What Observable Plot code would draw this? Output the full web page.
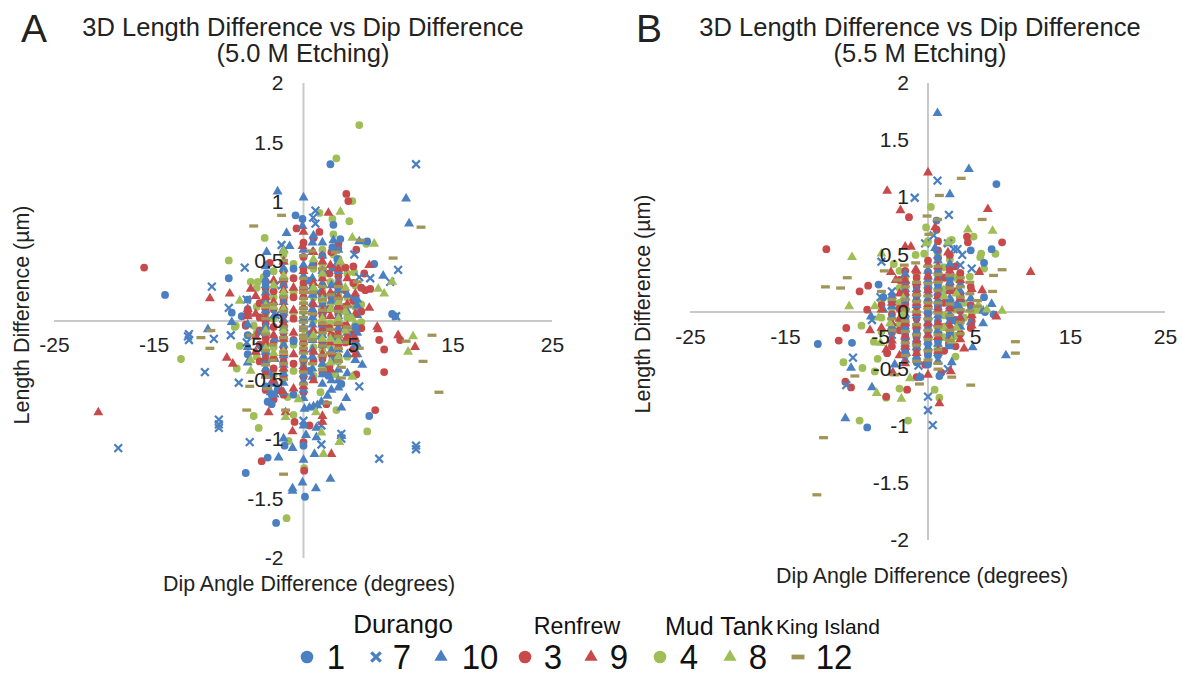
<!DOCTYPE html>
<html>
<head>
<meta charset="utf-8">
<script src="https://cdn.jsdelivr.net/npm/d3@7"></script>
<script src="https://cdn.jsdelivr.net/npm/@observablehq/plot@0.6"></script>
<style>
html,body{margin:0;padding:0;background:#fff;}
#page{position:relative;width:1183px;height:675px;overflow:hidden;font-family:"Liberation Sans",Arial,sans-serif;color:#222;}
#page svg{position:absolute;overflow:visible;background:transparent;}
.t{position:absolute;white-space:nowrap;text-align:center;}
</style>
</head>
<body>
<div id="page"></div>
<script>
// Every row is [dip difference, length difference, length difference, ...]
const xTicks = [-25,-15,-5,5,15,25];
const yTicks = [-2,-1.5,-1,-0.5,0,0.5,1,1.5,2];

// Panel A (5.0 M etching)
const aDurango1 = [[2.7,1.32],[-13.9,.22],[-.8,.89],[-.1,.86],[3,.81],[3.7,.69],[6.4,.67],[-7.5,.36],[7.1,.48],[8.9,.06],[-7.2,.07],[-6.2,.04],[-3.7,.4],[-5.8,-1.28],[-2.75,-1.7],[.15,-1.48],[-3.6,-1.15],[-1.9,-1.05],[6.6,-.8],[3.8,-.53],[2.5,-.46],[-3.6,-.68],[0,-1.05],[9.2,.04],
 [-5.6,.18,.1,-.12,-.28],[-3.8,.32,.12,-.07,-.3,-.55],[3.4,.52,.3,.1,-.14],[5.2,.2,-.05,-.2],[-3.2,-.62,-.7],[-2.6,-.58],[2.9,.62,.45,.22,-.33],[-1,.44,-.17,-.62],[.6,.34,-.11,-.42]];
const aDurango7 = [[11.3,1.32],[1.2,.93],[.97,.87],[1.2,.82],[-2.2,.64],[5.1,.56],[-5.9,.45],[9.5,.43],[6.7,.36],[5.6,.37],[8.7,.33],[-9.2,.29],[-7.5,.11],[-5.7,.18],[9.3,.04],[-11.5,-.11,-.16],[-11.6,-.13],[-9,-.15],[-7.3,-.12],[-5.7,-.18],[-9.9,-.43],[-6.5,-.52],[5.6,-.55],[-8.5,-.83,-.87,-.9],[-5.4,-1.02],[3.8,-.95,-.99],[1.8,-1.04],[11.3,-1.05,-1.08],[7.6,-1.16],[-18.6,-1.07],[0,-.84],[1.8,-.88],[-4.3,-.1,-.24],[-2.8,.3,.05],[1.4,.24,-.14]];
const aDurango10 = [[-2.6,1.09],[0,1.04],[10.3,1.03],[10.6,.82],[-1.7,.74],[-3.7,.58],[-1.4,.63],[-7.2,-.01],[-9.6,-.07],[8,.38],[5.6,.67],[3,.68],[1,.72],[-.1,.8],[4.3,-.65],[3.8,-.73],[5.9,-.37],[5.2,-.33],[-2.5,-1.15],[0,-1.17],[1.1,-1.12],[-.1,-1.36],[-1.1,-1.41,-1.43],[1.25,-1.41],[2.7,-1.33],[-2,-.99],[-1.1,-1.07],[.25,-.96],[1.3,-.98,-.9],[0,-.88],[3.8,-.97],[.1,-.74],[.6,-.73],[1,-.72],[1.4,-.71],[1.8,-.68],[2.4,-.63],
 [-3.8,.46,.35,.3,.24,.17,.09,.03,-.04,-.1,-.19,-.26,-.33,-.4],
 [-2,.6,.5,.44,.37,.3,.22,.16,.07,.01,-.06,-.13,-.2,-.29,-.37,-.44,-.52,-.6],
 [0,.6,.47,.38,.02,-.05,-.3,-.38,-.45,-.51,-.58,-.65],
 [.9,.66,.58,.48,.36,.29,.22,.15,.1,.03,-.03,-.08,-.16,-.24,-.3,-.4,-.47],
 [1.9,.66,.55,.42,.31,.22,.14,.08,-.03,-.12,-.2,-.28,-.36,-.45,-.53],
 [3.5,.6,.5,.42,.33,.26,.2,.1,.04,-.06,-.15,-.24,-.33,-.41,-.5,-.56],
 [5.4,.18,.13,.05,-.1,-.2,-.28],[-5.6,.06,-.03,-.22,-.35],[-2.9,.05,-.15,-.32,-.52,-.62],[2.8,.3,.17,-.25,-.5,-.58],
 [-3.3,-.46,-.53,-.6],[4.4,.22,.08,-.1,-.28,-.44]];
const aRenfrew3 = [[4.3,1.07],[4.5,1.01],[-.7,.78],[1.6,.75],[3.5,.65,.61],[5.3,.6],[5,.46],[6.1,.4],[6.7,.27],[6.2,.26],[-3.4,.49],[-5.8,-.04],[-16,.45],[7.6,-.16],[8.1,-.24,-.43],[7.2,-.75],[9.7,-.16],[5.3,-.45],[-4.2,-1.18],[.6,-.88],[-.9,-.85],[0,-1.02],[.07,-1.26],[2.3,-.7],[-5.8,-.03],
 [-3.8,.28,.2,.08,-.02,-.14,-.27,-.42,-.58],[-2,.42,.3,.17,.05,-.1,-.22,-.34,-.47,-.62],[0,.66,.54,.44,.32,.2,-.18,-.33,-.47,-.6],[1.9,.55,.42,.3,.16,.04,-.07,-.2,-.32,-.44],[3.5,.52,.38,.27,.15,.06,-.08,-.2,-.3],[2.8,.58,.2,-.12,-.28],[5,.32,.17,-.11,-.24],
 [-4.4,.15,.03,-.08,-.2,-.34],[-3,.25,.1,-.05,-.18,-.4,-.66],[-1,.36,.2,.02,-.16,-.36],[1,.7,.48,.26,.06,-.14,-.34],[2.6,.4,.1,-.06,-.38],[4.2,.45,.26,.12,-.04,-.18],[5.8,.28,.08,-.06]];
const aRenfrew9 = [[2.5,.91],[-9.4,.19],[-7.4,.23],[-5.3,.27],[-5.6,.1,.08,.04],[6.6,.47,.11],[7.4,-.05],[-.1,.63],[-20.6,-.77],[7.5,-.07],[9.5,-.12],[11.2,-.22],[-7.7,-.31],[-7.1,-.36],[-3.5,-.77],[1.9,-.8,-.85],[2.8,-1.12],[-1.1,-.93],[-2.2,-.59],[-1.8,-.77],
 [-3.8,.2,.12,.02,-.09,-.18,-.31,-.46],[-2,.5,.35,.26,.12,-.02,-.15,-.27,-.4],[0,.75,.42,.28,.12,-.24,-.4,-.55],[1.9,.5,.36,.24,.09,-.02,-.16,-.28],[3.5,.44,.31,.2,.12,-.02,-.12,-.22],[5.2,.23,.06,-.15,-.28],
 [-4.8,.21,.06,-.13,-.26],[-3,.34,.16,-.12,-.3,-.5],[1,.58,.32,.14,-.08,-.26,-.5],[2.7,.47,.24,.04,-.18,-.41],[4.4,.36,.14,-.04,-.13],[-1,.28,.09,-.1,-.28,-.57]];
const aMudTank4 = [[5.6,1.65],[3.3,1.37],[4.9,1.01],[4.6,.84],[1.6,.91],[2.9,.86],[-3.9,.7],[-7.5,.51],[-5.3,.33],[-4.6,.33],[6.3,.65],[3,.73,.62,.56],[-4,.37],[5.1,.41],[-6.9,-.05],[-5,-.04],[-12.3,-.32],[-6.8,-.04],[-6.4,-.21],[-6.7,-.4],[-5,-.8],[-4.5,-.9],[-1.7,-1.66],[.07,-1.24],[-1.5,-1.01],[6.4,-.93],[3.3,-.75],[-1.6,-.64],[-1,-.79],[1.7,-.6],[3.2,-.45],[4.9,-.09],
 [-3.8,.25,.15,.05,-.06,-.16,-.24,-.35],[-2,.56,.43,.33,.19,.08,-.04,-.17,-.3,-.42],[0,.3,.08,-.2,-.36],[1.9,.6,.48,.36,.25,.11,0,-.1,-.24,-.38],[3.5,.46,.34,.22,.1,0,-.1,-.19,-.34],[5.2,.3,.12,-.03,-.16],
 [-4.7,.28,.12,-.1,-.3],[-3,.42,.2,.02,-.22,-.45],[-1,.48,.24,.07,-.2,-.42],[1,.7,.44,.2,0,-.22,-.46],[2.7,.33,.14,-.02,-.21,-.43],[4.4,.4,.2,.03,-.16,-.3],[5.8,.14,-.01]];
const aMudTank8 = [[3.7,.92],[4.9,.7],[7.1,.65],[8.9,.33],[8.1,.23],[-6.4,.17],[-2,.59],[3.7,.5],[7.5,.27],[4.9,.02],[11,-.13],[10.5,-.26],[4.9,-.47],[2,-1.12],[3.6,-1.02],[-.5,-.66],[1.25,-.77],[-1.8,-.81],[1.8,-.94],[-5.3,-.33,-.42],
 [-2,.38,.24,.1,-.08,-.26],[1.9,.4,.18,.02,-.15],[3.5,.16,.02,-.17,-.3],[-3.8,.13,-.08,-.23],[0,.16,-.12],[-3,.3,.12,-.27],[1,.52,.28,-.12],[2.7,.1,-.15,-.35],[4.2,.28,.08,-.08]];
const aKingIsland12 = [[-2.2,.89],[-5,.8],[11.8,.79],[9,.53],[5.7,.68],[.8,.59],[3.2,.58],[5.4,.33],[12.9,-.12],[10.3,-.17],[12,-.34],[13.6,-.6],[-10.3,-.14],[-9.4,-.23],[-9.3,-.08],[-5.4,-.55],[-5.7,-.75],[-3.6,-.57],[-2,-1.29],[3.8,-.48,-.39],[-1.8,-.75],[2.4,-.69],[5.6,-.23],[-5.3,-.12],
 [-3.8,.13,.02,-.11,-.25,-.37,-.47],[-2,.51,.35,.2,.08,-.05,-.14,-.26,-.36,-.49],[0,.55,.36,.28,.24,.19,.15,.11,.07,.03,-.01,-.05,-.08,-.12,-.15,-.19,-.23,-.27,-.33,-.43,-.53],[1.9,.44,.29,.18,.09,-.02,-.1,-.21,-.29,-.41],[3.5,.29,.19,.08,-.02,-.13,-.23,-.34],
 [-3.1,.14,-.2,-.33],[.9,.45,.24,.06,-.16,-.36],[2.7,.22,-.07,-.27],[4.4,.12,-.05,-.18]];

// Panel B (5.5 M etching)
const bDurango1 = [[7.2,1.12],[.9,.8],[-5.2,.24],[6.7,.55],[4.5,.54],[5.9,.43,.13],[6,0],[6.9,-.02],[-11.6,-.28],[-8,-.27],[-6.4,-1.01],[1.2,-.56],[-.8,-.57],[2.2,-.29],[-4.7,.13],[0,.3,.22,.1,.02,-.07,-.17,-.28,-.38,-.46],[1.05,.34,.24,.13,.06,-.08,-.19,-.26,-.38],[2.3,.3,.1,-.05,-.2],[-2.4,.1,-.06,-.2],[-1.2,.15,-.02,-.27,-.44],[3,.06,-.08]];
const bDurango7 = [[1,1.15],[-1.4,1],[2.2,.85],[.6,.67],[-.3,.6],[-4.9,.44],[2.7,.55],[3.1,.55],[3.6,.5],[3.4,.41],[4.6,.38],[-3.8,.18],[-5,.13],[1,.5],[2.1,.6],[-7.9,-.4],[-8.6,-.64],[0,-.74,-.86],[.5,-.99],[2.1,-.5],[-5.9,-.07],[-1,-.47],[-3.8,.06,-.08,-.2],[-2.4,-.12,-.3]];
const bDurango10 = [[1,1.74],[4.3,1.25],[2.3,1.03],[.75,.56],[2.1,.6],[6.7,.07],[5.8,.01,-.1],[8.2,-.38],[4.7,-.31],[2.5,-.44],[-8.1,-.49],[-5.9,-.66],[-8.7,-.93],[-.9,-.57],[-2.3,-.36],[-3.5,-.46],[-6,-.04],[-4.7,.02],
 [-2.4,.33,.27,.2,.13,.05,-.02,-.09,-.15,-.22,-.28,-.34,-.42],[-1.2,.2,.12,.06,-.03,-.1,-.17,-.24,-.31,-.39],[0,.36,.28,.23,.16,.11,.05,.01,-.04,-.09,-.14,-.2,-.26,-.31],[1.05,.45,.36,.3,.22,.17,.1,.04,-.03,-.1,-.16,-.22,-.28,-.36,-.43],[2.3,.42,.31,.26,.19,.12,.05,-.02,-.08,-.14,-.21,-.3],[3.4,.24,.18,.11,.03,-.05,-.13],[-3.8,.14,.05,-.04,-.13],[4.5,.12,.03,-.09]];
const bRenfrew3 = [[-10.7,.55],[-2,.83],[4.1,.66],[4.2,.61],[7.8,.61],[-7.2,.18],[-6.3,.23],[-6.4,.02],[.9,.72],[-8.6,-.14],[-9.4,-.25],[-8.7,-.61],[-8.1,-.66],[-4.4,-.74],[-2.2,-.68],[1.4,-.53],[-4.3,-.36],[-1.2,-.57],[4.6,-.08],[-4.9,.06],[-.3,-.46],
 [-2.4,.36,.25,.15,.07,-.05,-.13,-.25,-.33],[-1.2,.3,.22,.14,.05,-.06,-.15,-.22,-.32,-.42],[0,.45,.35,.2,.09,-.02,-.12,-.24,-.36,-.44],[1.05,.62,.54,.47,.38,.26,.15,.05,-.12,-.24],[2.3,.5,.38,.24,.1,-.04,-.17],[3.4,.34,.16,.01,-.19],[-3.8,.1,-.02,-.18,-.3],[4.5,.22,.06,-.14],[-3,.28,.03,-.16],[1.7,.3,.08,-.13,-.34],[2.9,.4,.18,-.07,-.3]];
const bRenfrew9 = [[0,1.22],[-4.3,1.06],[-2.9,.89],[6.3,.9],[10.8,.35],[-1.8,.57],[-2.4,.57],[.75,.74],[5.7,.19],[5.4,.35],[-1.3,.37],[2.1,.52],[-3.9,.35],[-3.4,.28],[7.2,-.04],[1.2,-.8],[2.4,-.52],[0,-.55],[3.8,-.32],[-3.7,-.53],[-6.1,-.16],[-4.4,-.33],
 [-2.4,.28,.17,.04,-.1,-.21,-.3,-.45],[-1.2,.36,.26,.17,.08,-.01,-.12,-.26,-.36],[0,.42,.31,.19,.07,-.1,-.2],[1.05,.4,.28,.14,.02,-.1,-.22,-.34],[2.3,.36,.18,.03,-.12,-.25],[3.4,.28,.12,-.06,-.24],[-3.8,.08,-.1,-.25],[-4.9,.02,-.14],[4.6,.2,-.03,-.12],[-3,.16,-.06,-.38]];
const bMudTank4 = [[.3,.92],[-.2,.74],[0,.62],[-.4,.51],[-1.3,.5],[4.8,.66],[2.5,.63],[5.6,.51],[5.5,.48],[7.1,.51],[5.9,.38],[3.4,.34],[4.4,.31],[-3.6,.42],[-7,-.12],[-5.7,-.26],[-8.9,-.44],[-5.3,-.41],[-6.9,-.49],[-5.6,-.52],[-3,-.67],[.7,-.68],[-4.4,-.75],[1.2,-.75],[-7.2,-.95],[-2.1,-.95],[2.2,-.27],[4.6,.04,-.02],[3.8,.08,-.05],[5.3,.03],
 [-2.4,.3,.18,.02,-.16,-.3,-.38],[-1.2,.33,.16,.01,-.2,-.35],[1.05,.5,.3,.08,-.14,-.32],[2.3,.46,.28,.08,-.18],[3.4,.26,.12,-.1],[-3.8,.03,-.13],[-4.9,.1,-.05,-.17],[-3,.36,.21,.08,-.11],[1.7,.39,.2,-.03,-.22],[2.9,.3,.02,-.21,-.39]];
const bMudTank8 = [[-8,.48],[4.2,.72],[6.8,.71],[-8.3,.05],[-4.9,.51],[-5.6,.05],[7.8,.01],[4.9,.01],[-5.4,-.71],[-2.8,-.76],[-1.9,-.58],[-5.2,-.05],[-5,-.27],[2.5,-.25],[5.3,.06],[6.2,.02],[2.1,.61],[-.2,.6],[-2.6,.12,-.02],[3,.16,-.14],[-4,-.1],[1.7,.14,-.14]];
const bKingIsland12 = [[3.5,1.17],[1.2,1.02],[-.1,.84],[1,.81],[5.7,.81],[7.8,.37],[6.9,.32],[-8.5,.3],[-10.8,.22],[-9.2,.21],[6.8,.18],[-4.9,.18],[-4.6,.36],[-3.2,.28],[-1.3,.43],[-2.5,.41],[9.2,-.26,-.36],[4.5,-.64],[-7.7,-.56],[-11,-1.1],[-11.7,-1.6],[2.5,-.57],[-.9,-.63],[-3.5,-.55],[.1,.68],[5.2,.1,.05],
 [-2.4,.22,.11,.02,-.08,-.17,-.27,-.38],[-1.2,.26,.15,.09,0,-.11,-.2,-.29,-.43],[0,.4,.25,.14,.08,.03,-.06,-.16,-.24,-.34,-.42],[1.05,.4,.33,.26,.19,.08,-.01,-.13,-.2,-.33,-.45,-.5],[2.3,.32,.21,.07,-.03,-.16,-.25],[3.4,.3,.22,.13,.02,-.09,-.19],[-3.8,.11,-.06,-.16],[4.4,.26,.16,.01]];

const seriesColors = {blue:"#4a7fc1", red:"#c8494a", green:"#9fbe57", tan:"#a09556"};
const dash = {draw(c, size){ const w = Math.sqrt(size)*0.68, h = Math.sqrt(size)*0.25; c.moveTo(-w,-h); c.lineTo(w,-h); c.lineTo(w,h); c.lineTo(-w,h); c.closePath(); }};

const rows = list => list.flatMap(([x, ...ys]) => ys.map(y => ({x, y})));

// drawing order of the series, bottom to top
function layers(s){
  return [
    [s.m4, "circle", seriesColors.green],
    [s.r3, "circle", seriesColors.red],
    [s.d1, "circle", seriesColors.blue],
    [s.d7, "times", seriesColors.blue],
    [s.d10, "triangle", seriesColors.blue],
    [s.r9, "triangle", seriesColors.red],
    [s.m8, "triangle", seriesColors.green],
    [s.k12, dash, seriesColors.tan]
  ].map(([data, symbol, color]) => {
    if (symbol === "times") return Plot.dot(rows(data), {x:"x", y:"y", symbol, r:3.6, stroke:color, strokeWidth:2.2});
    if (symbol === dash) return Plot.dot(rows(data), {x:"x", y:"y", symbol, r:3.7, fill:color, stroke:"none"});
    return Plot.dot(rows(data), {x:"x", y:"y", symbol, r: symbol==="circle"?3.9:3.7, fill:color, stroke:"none"});
  });
}

function panel(s, o){
  const svg = Plot.plot({
    width:o.w, height:o.h, marginLeft:o.ml, marginRight:o.mr, marginTop:o.mt, marginBottom:o.mb,
    style:{background:"transparent", fontFamily:'"Liberation Sans",Arial,sans-serif'},
    x:{domain:[-25,25], axis:null}, y:{domain:[-2,2], axis:null},
    marks:[
      Plot.ruleY([0],{stroke:"#c9c9c9",strokeWidth:2}),
      Plot.ruleX([0],{stroke:"#c9c9c9",strokeWidth:2}),
      ...layers(s),
      Plot.text(xTicks,{x:d=>d,y:()=>0,text:d=>`${d}`,dy:o.xdy,fontSize:21,fill:"#222"}),
      Plot.text(yTicks,{x:()=>0,y:d=>d,text:d=>`${d}`,dx:-o.ydx,textAnchor:"end",fontSize:21,fill:"#222"})
    ]
  });
  svg.style.left = o.left+"px"; svg.style.top = o.top+"px";
  return svg;
}

const page = document.getElementById("page");
page.append(panel(
  {d1:aDurango1,d7:aDurango7,d10:aDurango10,r3:aRenfrew3,r9:aRenfrew9,m4:aMudTank4,m8:aMudTank8,k12:aKingIsland12},
  {left:0,top:60,w:600,h:520,ml:54,mr:48,mt:23,mb:22,xdy:24,ydx:20}));
page.append(panel(
  {d1:bDurango1,d7:bDurango7,d10:bDurango10,r3:bRenfrew3,r9:bRenfrew9,m4:bMudTank4,m8:bMudTank8,k12:bKingIsland12},
  {left:600,top:60,w:583,h:500,ml:90,mr:18,mt:23,mb:20,xdy:25,ydx:19}));

function label(text, css){
  const d = document.createElement("div"); d.className="t"; d.textContent=text;
  d.style.cssText += css; page.append(d);
}
const titleLine1 = "3D Length Difference vs Dip Difference";
label("A","left:21px;top:7px;font-size:39px;color:#222;");
label("B","left:636px;top:7px;font-size:39px;color:#222;");
label(titleLine1,"left:303px;top:13px;transform:translateX(-50%);font-size:25.5px;");
label("(5.0 M Etching)","left:303px;top:39px;transform:translateX(-50%);font-size:25.5px;");
label(titleLine1,"left:920px;top:13px;transform:translateX(-50%);font-size:25.5px;");
label("(5.5 M Etching)","left:920px;top:39px;transform:translateX(-50%);font-size:25.5px;");
label("Dip Angle Difference (degrees)","left:309px;top:572px;transform:translateX(-50%);font-size:21.4px;");
label("Dip Angle Difference (degrees)","left:922px;top:564px;transform:translateX(-50%);font-size:21.4px;");
label("Length Difference (µm)","left:22px;top:315px;transform:translate(-50%,-50%) rotate(-90deg);font-size:21.4px;");
label("Length Difference (µm)","left:643px;top:304px;transform:translate(-50%,-50%) rotate(-90deg);font-size:21.4px;");

// legend
const legendGroups = [["Durango",403,26,624],["Renfrew",577,23.2,626],["Mud Tank",719,25,626],["King Island",828,21,627]];
legendGroups.forEach(([t,x,fs,cy]) => label(t,`left:${x}px;top:${cy-fs*0.58}px;transform:translateX(-50%);font-size:${fs}px;color:#111;`));
const legendItems = [
  ["1",307,336,"circle",seriesColors.blue],["7",376,402,"times",seriesColors.blue],["10",441,480,"triangle",seriesColors.blue],
  ["3",525,553,"circle",seriesColors.red],["9",591,619,"triangle",seriesColors.red],
  ["4",660,689,"circle",seriesColors.green],["8",730,758,"triangle",seriesColors.green],["12",798,834,"dash",seriesColors.tan]
];
const NS = "http://www.w3.org/2000/svg";
legendItems.forEach(([t,sx,tx,sym,color]) => {
  label(t,`left:${tx}px;top:638px;transform:translateX(-50%) scaleY(1.05);font-size:33px;color:#111;`);
  const svg = document.createElementNS(NS,"svg");
  svg.setAttribute("width",24); svg.setAttribute("height",24);
  svg.style.left=(sx-12)+"px"; svg.style.top=(657-12)+"px";
  const p = document.createElementNS(NS,"path");
  p.setAttribute("transform","translate(12,12)");
  const type = sym==="circle"?d3.symbolCircle:sym==="triangle"?d3.symbolTriangle:sym==="times"?d3.symbolTimes:dash;
  const size = sym==="circle"?125:sym==="triangle"?75:sym==="times"?60:90;
  p.setAttribute("d",d3.symbol(type,size)());
  if (sym==="times"){p.setAttribute("fill","none");p.setAttribute("stroke",color);p.setAttribute("stroke-width",3.2);}
  else p.setAttribute("fill",color);
  svg.append(p); page.append(svg);
});
</script>
</body>
</html>
